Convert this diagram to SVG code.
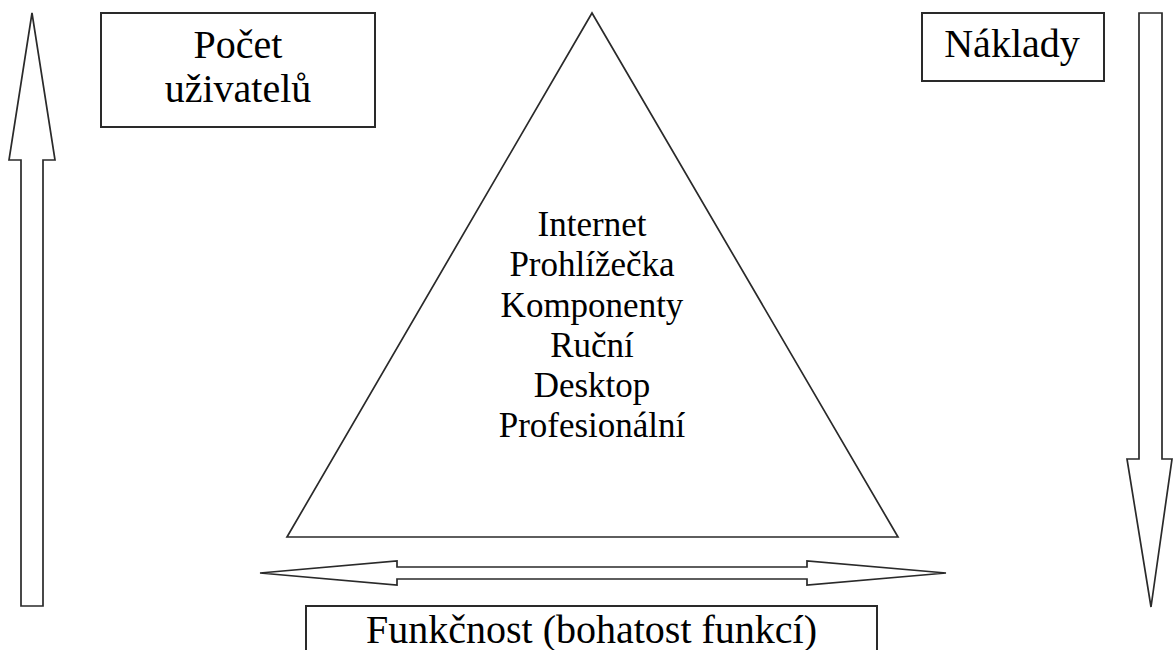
<svg xmlns="http://www.w3.org/2000/svg" width="1173" height="650" viewBox="0 0 1173 650">
  <style>
    .shape { fill: #ffffff; stroke: #2a2a2a; stroke-width: 1.7; stroke-linejoin: miter; }
    .box { fill: #ffffff; stroke: #2a2a2a; stroke-width: 2; }
    .label { font-family: "Liberation Serif", "Times New Roman", serif; font-size: 40px; fill: #000; text-anchor: middle; }
    .tier { font-family: "Liberation Serif", "Times New Roman", serif; font-size: 35px; fill: #000; text-anchor: middle; }
  </style>
  <rect width="1173" height="650" fill="#ffffff"/>

  <g id="connectors">
    <!-- users grow upward -->
    <polygon class="shape" points="32,13 55,160 43,160 43,606 21,606 21,160 9,160"/>
    <!-- costs grow downward -->
    <polygon class="shape" points="1139,13 1162,13 1162,459 1172,459 1151,607 1127,459 1139,459"/>
    <!-- functionality range -->
    <polygon class="shape" points="260,573 397,561 397,567 807,567 807,561 946,573 807,585 807,579 397,579 397,585"/>
  </g>

  <g id="pyramid">
    <polygon class="shape" points="592,13 898,537 287,537"/>
    <text class="tier" x="592" y="236">Internet</text>
    <text class="tier" x="592" y="276">Prohlížečka</text>
    <text class="tier" x="592" y="317">Komponenty</text>
    <text class="tier" x="592" y="357">Ruční</text>
    <text class="tier" x="592" y="397">Desktop</text>
    <text class="tier" x="592" y="437">Profesionální</text>
  </g>

  <g id="users">
    <rect class="box" x="101" y="13" width="274" height="114"/>
    <text class="label" x="238" y="58">Počet</text>
    <text class="label" x="238" y="102">uživatelů</text>
  </g>

  <g id="costs">
    <rect class="box" x="922" y="13" width="182" height="68"/>
    <text class="label" x="1012" y="57">Náklady</text>
  </g>

  <g id="functionality">
    <rect class="box" x="306" y="606" width="571" height="60"/>
    <text class="label" x="591.5" y="643">Funkčnost (bohatost funkcí)</text>
  </g>
</svg>
